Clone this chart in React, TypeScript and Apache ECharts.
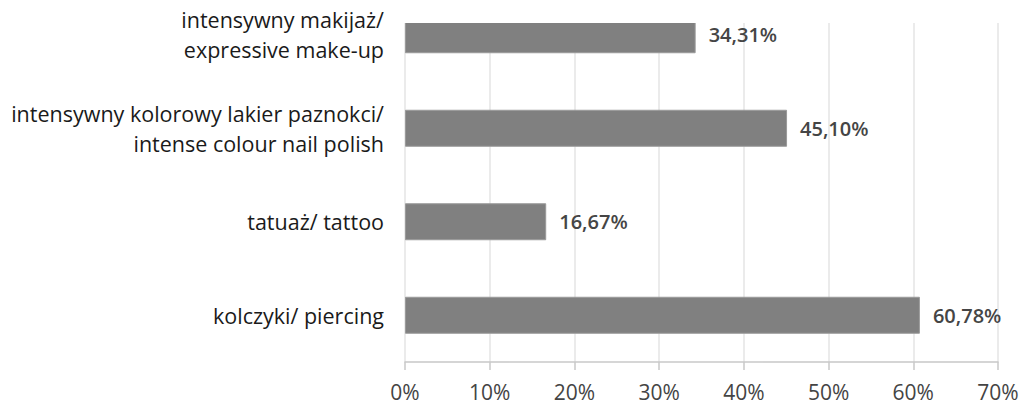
import React, { useEffect, useRef } from "react";
import * as echarts from "echarts";

const categories = [
  "kolczyki/ piercing",
  "tatuaż/ tattoo",
  "intensywny kolorowy lakier paznokci/\nintense colour nail polish",
  "intensywny makijaż/\nexpressive make-up",
];
const values = [60.78, 16.67, 45.1, 34.31];
const xTicks = [0, 10, 20, 30, 40, 50, 60, 70];

export default function App() {
  const ref = useRef<HTMLDivElement>(null);
  useEffect(() => {
    if (!ref.current) return;
    const chart = echarts.init(ref.current, null, { renderer: "svg" });
    chart.setOption({
      animation: false,
      backgroundColor: "#ffffff",
      grid: {
        left: 405,
        right: 23,
        top: -12,
        bottom: 44,
        containLabel: false,
        outerBoundsMode: "none",
      },
      xAxis: {
        type: "value",
        min: xTicks[0],
        max: xTicks[xTicks.length - 1],
        interval: 10,
        axisLine: { show: true, lineStyle: { color: "#c8c8c8", width: 1.5 } },
        axisTick: { show: true, length: 8, lineStyle: { color: "#c8c8c8", width: 1.5 } },
        splitLine: { show: true, lineStyle: { color: "#e4e4e4", width: 1.5 } },
        axisLabel: {
          formatter: (v: number) => `${v}%`,
          fontFamily: "Open Sans",
          fontSize: 21,
          lineHeight: 21,
          color: "#444",
          margin: 19,
        },
      },
      yAxis: {
        type: "category",
        data: categories,
        axisLine: { show: false },
        axisTick: { show: false },
        axisLabel: {
          fontFamily: "Open Sans",
          fontSize: 21.5,
          lineHeight: 30,
          color: "#1a1a1a",
          margin: 21,
          align: "right",
        },
      },
      series: [
        {
          type: "bar",
          data: values,
          barWidth: 37,
          itemStyle: { color: "#808080", borderColor: "#9a9a9a", borderWidth: 1 },
          label: {
            show: true,
            position: "right",
            distance: 13,
            formatter: (p: any) => p.value.toFixed(2).replace(".", ",") + "%",
            fontFamily: "Open Sans",
            fontWeight: 600,
            fontSize: 20,
            color: "#454545",
          },
        },
      ],
      graphic: [
        {
          type: "rect",
          shape: { x: 395, y: 0, width: 626, height: 23 },
          style: { fill: "#ffffff" },
          z: 100,
        },
      ],
    });
    return () => chart.dispose();
  }, []);
  return <div ref={ref} style={{ width: 1021, height: 406, position: "absolute", left: 0, top: 0 }} />;
}
